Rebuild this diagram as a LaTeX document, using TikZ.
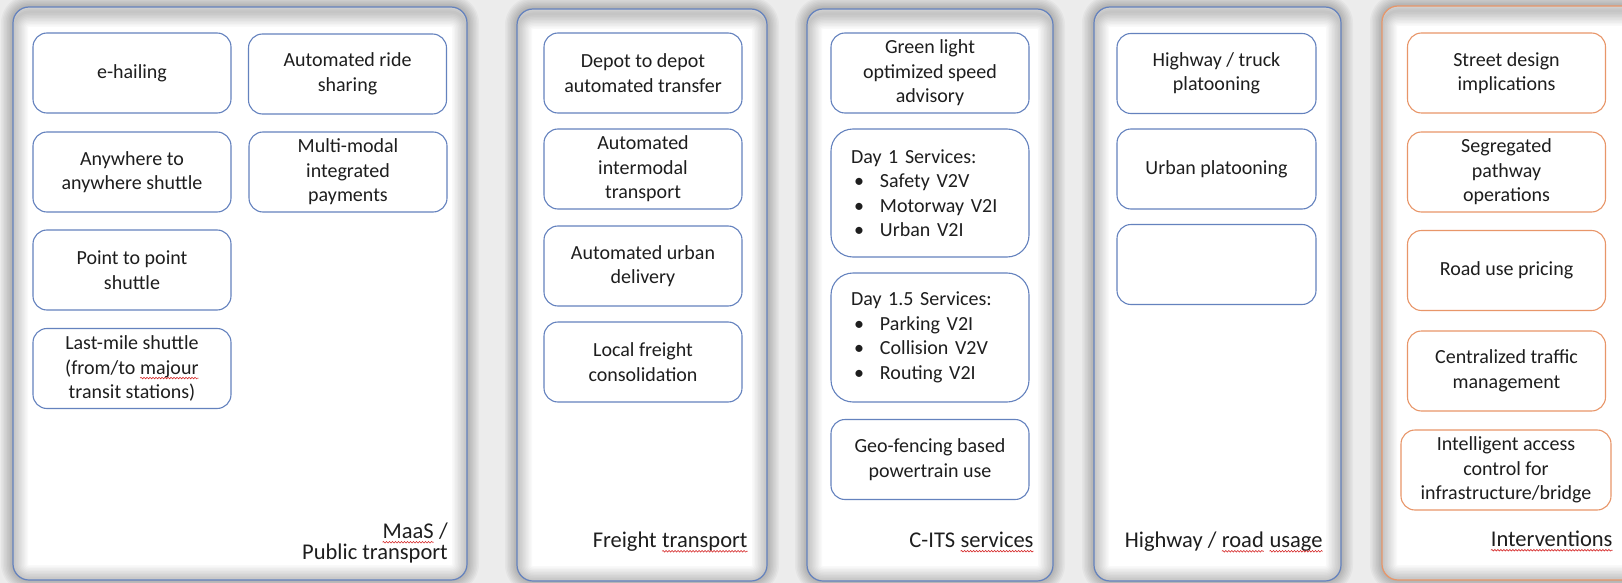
\documentclass[tikz,border=0pt]{standalone}
\usepackage{fontspec}
\setmainfont{Carlito}
\usepackage{xcolor}
\usepackage{tikz}
\usetikzlibrary{positioning, decorations.pathmorphing}
\definecolor{cvblue}{RGB}{100,130,190}
\definecolor{cvorange}{RGB}{232,150,105}
\definecolor{cvtext}{RGB}{30,30,30}
\definecolor{cvback}{RGB}{236,236,236}
\definecolor{cvwave}{RGB}{215,45,45}

\newcommand\spellwave[1]{\tikz[baseline=(sw.base)]{%
  \node[inner sep=0pt, outer sep=0pt, draw=none, fill=none, sharp corners,
    minimum width=0pt, minimum height=0pt] (sw) {#1};%
  \draw[cvwave, sharp corners, line width=0.6pt, decorate,
    decoration={snake, amplitude=0.8pt, segment length=3pt}]
    ([yshift=-4pt]sw.base west) -- ([yshift=-4pt]sw.base east);}}
\newcommand\boxfont{\fontsize{20}{24.5}\selectfont}
\newcommand\tagfont{\fontsize{22.5}{21.5}\selectfont}
\newcommand\listdot{\makebox[29pt][l]{\hspace{3pt}\textbullet}}

\tikzset{
  itembox/.style={draw=cvblue, fill=white, line width=1.1pt, rounded corners=14pt,
    minimum width=198pt, minimum height=80pt, inner sep=0pt, align=center,
    font=\boxfont, text=cvtext},
  itemorange/.style={itembox, draw=cvorange},
  listbox/.style={itembox, rounded corners=22pt, align=left, text width=158pt},
  paneltag/.style={font=\tagfont, text=cvtext, inner sep=0pt, anchor=east, align=right}
}

\begin{document}
\begin{tikzpicture}[x=1pt, y=-1pt]
\useasboundingbox (0,0) rectangle (1622,583);
\clip (0,0) rectangle (1622,583);
\fill[cvback] (0,0) rectangle (1622,583);

% panels: soft shadow, inner glow, border
\foreach \xa/\ya/\xb/\yb/\col in {13/7/467/580/cvblue, 517/9/767/581/cvblue,
    807/9/1053/581/cvblue, 1094/7/1341/581/cvblue, 1382/6/1650/580/cvorange}{
  \foreach \i [evaluate=\i as \rr using 16+1.5*\i] in {1,...,8}
    \fill[black, opacity=0.03, rounded corners=\rr pt]
      (\xa-1.5*\i,\ya-1.5*\i) rectangle (\xb+1.5*\i,\yb+1.5*\i);
  \fill[white, rounded corners=16pt] (\xa,\ya) rectangle (\xb,\yb);
  \begin{scope}
    \clip[rounded corners=16pt] (\xa,\ya) rectangle (\xb,\yb);
    \foreach \i [evaluate=\i as \lw using 3*\i] in {1,...,10}
      \draw[black, opacity=0.022, line width=\lw pt, rounded corners=16pt]
        (\xa,\ya+5) rectangle (\xb,\yb);
  \end{scope}
  \draw[\col, line width=1.2pt, rounded corners=16pt] (\xa,\ya) rectangle (\xb,\yb);
}

% ---- MaaS / public transport ----
\node[itembox] (ehailing) at (132,73) {e-hailing};
\node[itembox] (ridesharing) at (347.5,74) {Automated ride\\sharing};
\node[itembox] (anywhere) at (132,172) {Anywhere to\\anywhere shuttle};
\node[itembox] (payments) at (348,172) {Multi-modal\\integrated\\payments};
\node[itembox] (pointshuttle) at (132,270) {Point to point\\shuttle};
\node[itembox] (lastmile) at (132,368.5)
  {Last-mile shuttle\\(from/to \spellwave{majour}\\transit stations)};
\node[paneltag] (maastag) at (448,543) {\spellwave{MaaS} /\\Public transport};

% ---- freight ----
\node[itembox] (depot) at (643,73) {Depot to depot\\automated transfer};
\node[itembox] (intermodal) at (643,169) {Automated\\intermodal\\transport};
\node[itembox] (urbandelivery) at (643,266) {Automated urban\\delivery};
\node[itembox] (consolidation) at (643,362) {Local freight\\consolidation};
\node[paneltag] (freighttag) at (748,542) {Freight \spellwave{transport}};

% ---- C-ITS ----
\node[itembox] (glosa) at (930,73) {Green light\\optimized speed\\advisory};
\node[listbox, minimum height=128pt] (dayone) at (930,193)
  {Day 1 Services:\\\listdot Safety V2V\\\listdot Motorway V2I\\\listdot Urban V2I};
\node[listbox, minimum height=129pt] (dayonefive) at (930,337.5)
  {Day 1.5 Services:\\\listdot Parking V2I\\\listdot Collision V2V\\\listdot Routing V2I};
\node[itembox] (geofencing) at (930,459.5) {Geo-fencing based\\powertrain use};
\node[paneltag] (citstag) at (1034,542) {C-ITS \spellwave{services}};

% ---- highway ----
\node[itembox, minimum width=199pt] (truckplatoon) at (1216.5,73.5) {Highway / truck\\platooning};
\node[itembox, minimum width=199pt] (urbanplatoon) at (1216.5,169) {Urban platooning};
\node[itembox, minimum width=199pt] (emptyslot) at (1216.5,264.5) {};
\node[paneltag] (roadtag) at (1323,542) {Highway / \spellwave{road} \spellwave{usage}};

% ---- interventions ----
\node[itemorange] (streetdesign) at (1506.5,73) {Street design\\implications};
\node[itemorange] (segregated) at (1506.5,172) {Segregated\\pathway\\operations};
\node[itemorange] (pricing) at (1506.5,270.5) {Road use pricing};
\node[itemorange] (trafficmgmt) at (1506.5,371) {Centralized traffic\\management};
\node[itemorange, minimum width=210pt] (accesscontrol) at (1506,470)
  {Intelligent access\\control for\\infrastructure/bridge};
\node[paneltag] (intervtag) at (1613,541) {\spellwave{Interventions}};
\end{tikzpicture}
\end{document}
